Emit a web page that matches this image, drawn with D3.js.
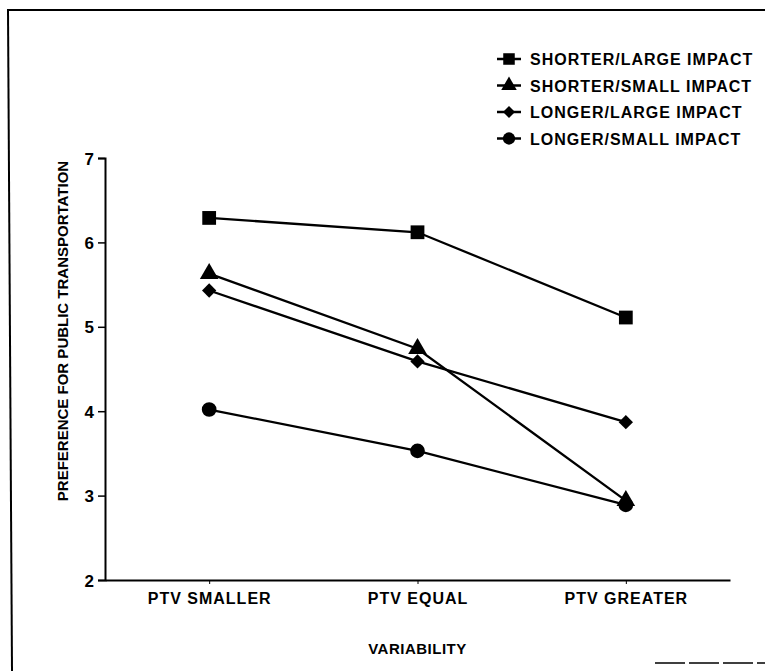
<!DOCTYPE html>
<html>
<head>
<meta charset="utf-8">
<script src="https://cdn.jsdelivr.net/npm/d3@7"></script>
<style>
  html, body { margin: 0; padding: 0; background: #fff; }
  svg { display: block; }
  text { font-family: "Liberation Sans", Arial, sans-serif; font-weight: bold; fill: #000; }
</style>
</head>
<body>
<svg id="chart" width="765" height="671"></svg>
<script>
// ---- data ----
const categories = ["PTV SMALLER", "PTV EQUAL", "PTV GREATER"];
const seriesNames = ["SHORTER/LARGE IMPACT", "SHORTER/SMALL IMPACT", "LONGER/LARGE IMPACT", "LONGER/SMALL IMPACT"];
const shorterLarge = [6.29, 6.12, 5.11];
const shorterSmall = [5.63, 4.74, 2.94];
const longerLarge = [5.43, 4.59, 3.87];
const longerSmall = [4.02, 3.53, 2.89];
const yTicks = [2, 3, 4, 5, 6, 7];
const yTitle = "PREFERENCE FOR PUBLIC TRANSPORTATION";
const xTitle = "VARIABILITY";

const seriesValues = [shorterLarge, shorterSmall, longerLarge, longerSmall];
const symbols = [d3.symbolSquare, d3.symbolTriangle, d3.symbolDiamond2, d3.symbolCircle];
const symbolSizes = [190, 150, 130, 170];

const svg = d3.select("#chart");
const FONT = "'Liberation Sans', Arial, sans-serif";

// frame (scanned page border)
svg.append("line").attr("x1", 7).attr("y1", 10).attr("x2", 765).attr("y2", 10)
  .attr("stroke", "#000").attr("stroke-width", 2);
svg.append("line").attr("x1", 8).attr("y1", 10).attr("x2", 12).attr("y2", 671)
  .attr("stroke", "#000").attr("stroke-width", 2);
svg.append("line").attr("x1", 655).attr("y1", 663).attr("x2", 765).attr("y2", 663)
  .attr("stroke", "#000").attr("stroke-width", 1.5).attr("stroke-dasharray", "30,4");

const plotL = 105, plotR = 730, plotT = 158, plotB = 580;

const x = d3.scalePoint().domain(categories).range([plotL, plotR]).padding(0.5);
const y = d3.scaleLinear().domain([2, 7]).range([plotB, plotT]);

// y axis
const yAxis = d3.axisLeft(y).tickValues(yTicks).tickSize(7).tickPadding(4).tickFormat(d3.format("d"));
const gy = svg.append("g").attr("transform", `translate(${plotL},0)`).call(yAxis);
gy.select(".domain").attr("stroke-width", 2);
gy.selectAll(".tick line").attr("stroke-width", 1.5);
gy.selectAll(".tick text").attr("font-size", 17).attr("font-weight", "bold")
  .attr("font-family", FONT).attr("dy", "0.36em");

// x axis
const xAxis = d3.axisBottom(x).tickSize(4).tickPadding(9).tickSizeOuter(0);
const gx = svg.append("g").attr("transform", `translate(0,${plotB})`).call(xAxis);
gx.select(".domain").attr("stroke-width", 2);
gx.selectAll(".tick line").attr("stroke-width", 1);
gx.selectAll(".tick text").attr("font-size", 16).attr("font-weight", "bold")
  .attr("font-family", FONT).attr("letter-spacing", 1);

// axis titles
svg.append("text")
  .attr("transform", `translate(68,331) rotate(-90)`)
  .attr("text-anchor", "middle").attr("font-size", 15).text(yTitle);
svg.append("text")
  .attr("x", x(categories[1])).attr("y", 654)
  .attr("text-anchor", "middle").attr("font-size", 15).attr("letter-spacing", 0.5).text(xTitle);

// lines and markers
const line = d3.line().x((d, i) => x(categories[i])).y(d => y(d));
seriesValues.forEach((vals, s) => {
  svg.append("path").datum(vals).attr("d", line)
    .attr("fill", "none").attr("stroke", "#000").attr("stroke-width", 2.3);
  svg.selectAll(null).data(vals).enter().append("path")
    .attr("d", d3.symbol().type(symbols[s]).size(symbolSizes[s]))
    .attr("transform", (d, i) => `translate(${x(categories[i])},${y(d)})`)
    .attr("fill", "#000");
});

// legend
const legendX = 497, legendY0 = 59, legendDy = 26.5;
seriesNames.forEach((name, s) => {
  const ly = legendY0 + s * legendDy;
  svg.append("line").attr("x1", legendX).attr("x2", legendX + 24)
    .attr("y1", ly).attr("y2", ly).attr("stroke", "#000").attr("stroke-width", 2.5);
  svg.append("path")
    .attr("d", d3.symbol().type(symbols[s]).size(symbolSizes[s] * 0.7))
    .attr("transform", `translate(${legendX + 12},${ly})`).attr("fill", "#000");
  svg.append("text").attr("x", legendX + 33).attr("y", ly + 6)
    .attr("font-size", 16).attr("letter-spacing", 1).text(name);
});
</script>
</body>
</html>
